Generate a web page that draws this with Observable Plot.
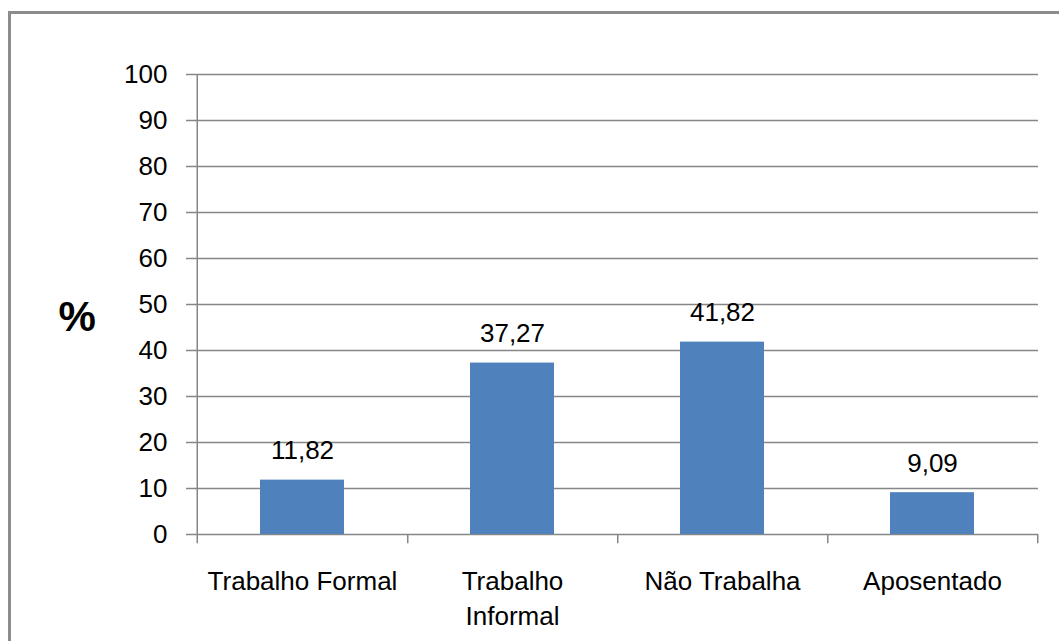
<!DOCTYPE html>
<html>
<head>
<meta charset="utf-8">
<script src="https://cdn.jsdelivr.net/npm/d3@7"></script>
<script src="https://cdn.jsdelivr.net/npm/@observablehq/plot@0.6"></script>
<style>
  html, body { margin: 0; padding: 0; background: #fff; }
  #wrap { position: relative; width: 1059px; height: 641px; overflow: hidden; }
  #border { position: absolute; left: 8px; top: 11px; width: 1100px; height: 700px;
            border-left: 3px solid #8c8c8c; border-top: 3px solid #8c8c8c; pointer-events: none; }
</style>
</head>
<body>
<div id="wrap"><div id="border"></div></div>
<script>
const categories = ["Trabalho Formal", "Trabalho Informal", "Não Trabalha", "Aposentado"];
const tickLabels = ["Trabalho Formal", "Trabalho\nInformal", "Não Trabalha", "Aposentado"];
const values = [11.82, 37.27, 41.82, 9.09];
const valueLabels = ["11,82", "37,27", "41,82", "9,09"];
const yTicks = [0, 10, 20, 30, 40, 50, 60, 70, 80, 90, 100];

const data = categories.map((c, i) => ({cat: c, value: values[i], label: valueLabels[i]}));

const width = 1059, height = 641;
const marginLeft = 196, marginRight = 21, marginTop = 74, marginBottom = 107;
const step = (width - marginLeft - marginRight) / categories.length;
const half = step / 2;
const font = "Liberation Sans, Arial, sans-serif";

const chart = Plot.plot({
  width, height, marginLeft, marginRight, marginTop, marginBottom,
  style: {fontFamily: font, fontSize: "26px", color: "#000", background: "#fff"},
  x: {domain: categories, paddingInner: 0.6, paddingOuter: 0.3, label: null},
  y: {domain: [0, 100], label: null},
  marks: [
    Plot.gridY(yTicks, {stroke: "#868686", strokeOpacity: 1, strokeWidth: 1.5}),
    Plot.axisY(yTicks, {tickSize: 10, tickPadding: 19, stroke: "#868686", strokeWidth: 1.5, fontSize: 26, fill: "#000", label: null}),
    Plot.axisX({tickSize: 0, tickPadding: 31, fontSize: 26, fill: "#000", lineHeight: 1.33,
      tickFormat: (d) => tickLabels[categories.indexOf(d)], label: null}),
    Plot.barY(data, {x: "cat", y: "value", fill: "#4F81BD"}),
    Plot.text(data, {x: "cat", y: "value", text: "label", lineAnchor: "bottom", dy: -21, fontSize: 26, fill: "#000"}),
    // vertical axis line and category boundary ticks
    Plot.ruleX([categories[0]], {dx: -half, y1: -2, y2: 100, stroke: "#868686", strokeWidth: 1.5}),
    Plot.ruleX(categories, {dx: half, y1: -2, y2: 0, stroke: "#868686", strokeWidth: 1.5}),
    Plot.text(["%"], {frameAnchor: "left", dx: -138, dy: 13, fontSize: 42, fontWeight: "bold", fill: "#000"})
  ]
});
document.getElementById("wrap").insertBefore(chart, document.getElementById("border"));
</script>
</body>
</html>
